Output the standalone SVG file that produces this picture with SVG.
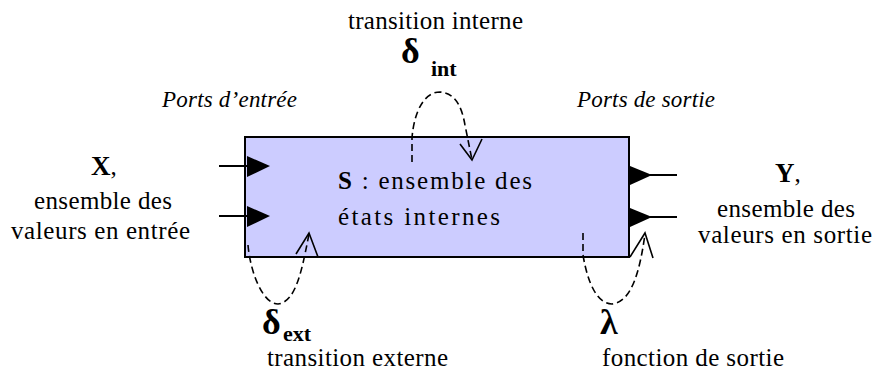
<svg xmlns="http://www.w3.org/2000/svg" width="877" height="373" viewBox="0 0 877 373">
<style>
.t{font-size:25px;fill:#000}
.it{font-size:23px;font-style:italic;fill:#000}
.b{font-weight:bold}
.dl{font-size:36px;font-weight:bold}
.sub{font-size:22px;font-weight:bold}
.port{stroke:#000;stroke-width:2;fill:none}
.tri{fill:#000}
.dash{stroke:#000;stroke-width:1.6;fill:none;stroke-dasharray:7 4}
.head{stroke:#000;stroke-width:1.6;fill:none}
</style>
<rect width="877" height="373" fill="#fff"/>
<g id="model" font-family="'Liberation Serif', 'DejaVu Serif', 'Times New Roman', serif">
<rect x="245" y="137" width="384" height="120" fill="#CCCCFF" stroke="#000" stroke-width="2"/>
<text class="t" x="338" y="189" textLength="194" lengthAdjust="spacing"><tspan class="b">S</tspan> : ensemble des</text>
<text class="t" x="338" y="225" textLength="162" lengthAdjust="spacing">états internes</text>
</g>
<g id="inputs" font-family="'Liberation Serif', 'DejaVu Serif', 'Times New Roman', serif">
<line class="port" x1="219" y1="166" x2="247" y2="166"/>
<polygon class="tri" points="247,156 270,166 247,177"/>
<line class="port" x1="219" y1="216" x2="247" y2="216"/>
<polygon class="tri" points="247,206 270,216 247,227"/>
<text class="it" x="162" y="107" textLength="135" lengthAdjust="spacing">Ports d’entrée</text>
<text class="t" x="91" y="175"><tspan class="b" font-size="27">X</tspan>,</text>
<text class="t" x="34" y="209" textLength="138" lengthAdjust="spacing">ensemble des</text>
<text class="t" x="11" y="239" textLength="179" lengthAdjust="spacing">valeurs en entrée</text>
</g>
<g id="outputs" font-family="'Liberation Serif', 'DejaVu Serif', 'Times New Roman', serif">
<polygon class="tri" points="630,166 652,175 630,185"/>
<line class="port" x1="650" y1="175" x2="677" y2="175"/>
<polygon class="tri" points="630,208 652,217 630,227"/>
<line class="port" x1="650" y1="217" x2="677" y2="217"/>
<text class="it" x="577" y="107" textLength="138" lengthAdjust="spacing">Ports de sortie</text>
<text class="t" x="775" y="182"><tspan class="b" font-size="27">Y</tspan>,</text>
<text class="t" x="717" y="217" textLength="138" lengthAdjust="spacing">ensemble des</text>
<text class="t" x="698" y="243" textLength="174" lengthAdjust="spacing">valeurs en sortie</text>
</g>
<g id="connectors">
<path class="dash" d="M412,162 L412,138 C414,112 424,92 440,92 C456,93 462,108 465,125 L472,160"/>
<polyline class="head" points="460,144 472,160 482,139"/>
<path class="dash" d="M248,245 C250,270 262,304 278,304 C296,302 302,270 309,234"/>
<polyline class="head" points="296,254 309,233 318,257"/>
<path class="dash" d="M583,233 L583,255 C588,285 598,304 612,304 C632,302 640,270 645,234"/>
<polyline class="head" points="630,257 645,233 653,258"/>
</g>
<g id="delta-int" font-family="'Liberation Serif', 'DejaVu Serif', 'Times New Roman', serif">
<text class="t" x="348" y="29" textLength="175" lengthAdjust="spacing">transition interne</text>
<text class="dl" x="401" y="63">δ</text>
<text class="sub" x="431" y="76">int</text>
</g>
<g id="delta-ext" font-family="'Liberation Serif', 'DejaVu Serif', 'Times New Roman', serif">
<text class="dl" x="262" y="334">δ</text>
<text class="sub" x="283" y="341" font-size="20">ext</text>
<text class="t" x="267" y="366" textLength="181" lengthAdjust="spacing">transition externe</text>
</g>
<g id="lambda" font-family="'Liberation Serif', 'DejaVu Serif', 'Times New Roman', serif">
<text class="dl" x="600" y="334">λ</text>
<text class="t" x="602" y="366" textLength="182" lengthAdjust="spacing">fonction de sortie</text>
</g>
</svg>
